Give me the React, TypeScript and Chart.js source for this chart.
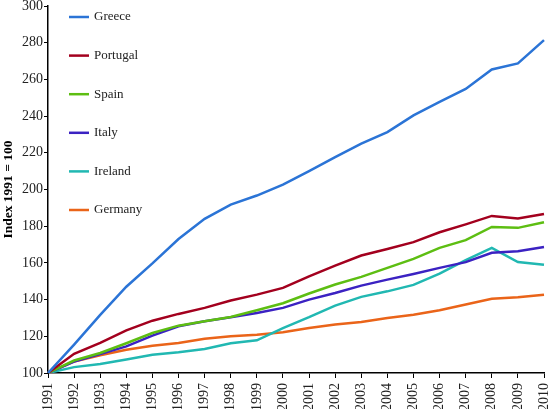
import React, { useEffect, useRef } from "react";
import { Chart, registerables } from "chart.js";

Chart.register(...registerables);

const years = ["1991","1992","1993","1994","1995","1996","1997","1998","1999","2000","2001","2002","2003","2004","2005","2006","2007","2008","2009","2010"];

const greece = [100, 115.5, 131.7, 147, 159.7, 173, 184, 191.8, 196.7, 202.6, 210, 217.6, 225, 231.3, 240.4, 247.7, 254.8, 265.4, 268.7, 281.4];
const portugal = [100, 110.5, 116.4, 123.2, 128.5, 132.2, 135.5, 139.5, 142.7, 146.4, 152.7, 158.5, 164, 167.6, 171.3, 176.7, 181, 185.6, 184.2, 186.7];
const spain = [100, 106.8, 110.9, 116.2, 121.8, 125.8, 128.2, 130.5, 134.2, 138, 143.3, 148.2, 152.4, 157.3, 162.2, 168.2, 172.4, 179.6, 179.1, 182.2];
const italy = [100, 106.2, 110.3, 114.5, 120.4, 125.5, 128.2, 130.4, 132.7, 135.5, 140, 143.6, 147.6, 150.9, 154, 157.3, 160.4, 165.5, 166.4, 168.7];
const ireland = [100, 103.2, 104.9, 107.3, 110, 111.3, 113.1, 116.2, 117.8, 124.5, 130.4, 136.7, 141.5, 144.5, 148, 154.2, 161.5, 168.2, 160.5, 159];
const germany = [100, 106.3, 109.7, 112.7, 114.9, 116.4, 118.7, 120, 120.9, 122.2, 124.5, 126.4, 127.8, 130, 131.8, 134.2, 137.3, 140.5, 141.3, 142.7];

const seriesNames = ["Greece", "Portugal", "Spain", "Italy", "Ireland", "Germany"];
const seriesColors = ["#2B74D6", "#A3001E", "#5DBE12", "#3B22C2", "#21B8B2", "#EA6419"];
const seriesData = [greece, portugal, spain, italy, ireland, germany];

const FONT = "'Times New Roman', 'Liberation Serif', serif";

const insideLegend = {
  id: "insideLegend",
  afterDraw(chart: any) {
    const ctx = chart.ctx;
    ctx.save();
    const x0 = 69, x1 = 89, tx = 94;
    const yStart = 17, step = 38.6;
    chart.data.datasets.forEach((ds: any, i: number) => {
      const y = yStart + i * step;
      ctx.strokeStyle = ds.borderColor;
      ctx.lineWidth = 2.5;
      ctx.beginPath();
      ctx.moveTo(x0, y);
      ctx.lineTo(x1, y);
      ctx.stroke();
      ctx.fillStyle = "#222";
      ctx.font = `13px ${FONT}`;
      ctx.textAlign = "left";
      ctx.textBaseline = "middle";
      ctx.fillText(ds.label, tx, y);
    });
    ctx.restore();
  },
};

export default function App() {
  const canvasRef = useRef<HTMLCanvasElement | null>(null);

  useEffect(() => {
    document.body.style.margin = "0";
    const canvas = canvasRef.current;
    if (!canvas) return;
    const chart = new Chart(canvas, {
      type: "line",
      data: {
        labels: years,
        datasets: seriesNames.map((name, i) => ({
          label: name,
          data: seriesData[i],
          borderColor: seriesColors[i],
          backgroundColor: seriesColors[i],
          borderWidth: 2.5,
          pointRadius: 0,
          tension: 0,
          fill: false,
        })),
      },
      options: {
        animation: false,
        responsive: false,
        maintainAspectRatio: false,
        layout: { padding: { top: 6, right: 4, left: 0, bottom: 0 } },
        plugins: {
          legend: { display: false },
          tooltip: { enabled: false },
        },
        scales: {
          x: {
            type: "category",
            offset: false,
            afterFit: (scale: any) => {
              scale.height = 36;
              scale.paddingLeft = 0;
              scale.paddingRight = 0;
            },
            border: { display: true, color: "#000", width: 1.5 },
            grid: {
              display: true,
              drawOnChartArea: false,
              drawTicks: true,
              tickLength: 5,
              tickColor: "#000",
              offset: false,
            },
            ticks: {
              color: "#222",
              font: { family: FONT, size: 14 },
              minRotation: 90,
              maxRotation: 90,
              autoSkip: false,
              padding: 5,
            },
          },
          y: {
            min: 100,
            max: 300,
            afterFit: (scale: any) => {
              scale.width = 48;
              scale.paddingTop = 0;
              scale.paddingBottom = 0;
            },
            border: { display: true, color: "#000", width: 1.5 },
            grid: {
              display: true,
              drawOnChartArea: false,
              drawTicks: true,
              tickLength: 4,
              tickColor: "#000",
            },
            ticks: {
              stepSize: 20,
              color: "#222",
              font: { family: FONT, size: 14 },
              padding: 1,
            },
            title: {
              display: true,
              text: "Index 1991 = 100",
              color: "#000",
              font: { family: FONT, size: 13.5, weight: "bold" },
              padding: { top: 0, bottom: 0 },
            },
          },
        },
      },
      plugins: [insideLegend],
    });
    return () => chart.destroy();
  }, []);

  return (
    <div style={{ width: 548, height: 409, background: "#fff" }}>
      <canvas ref={canvasRef} width={548} height={409} style={{ display: "block" }} />
    </div>
  );
}
